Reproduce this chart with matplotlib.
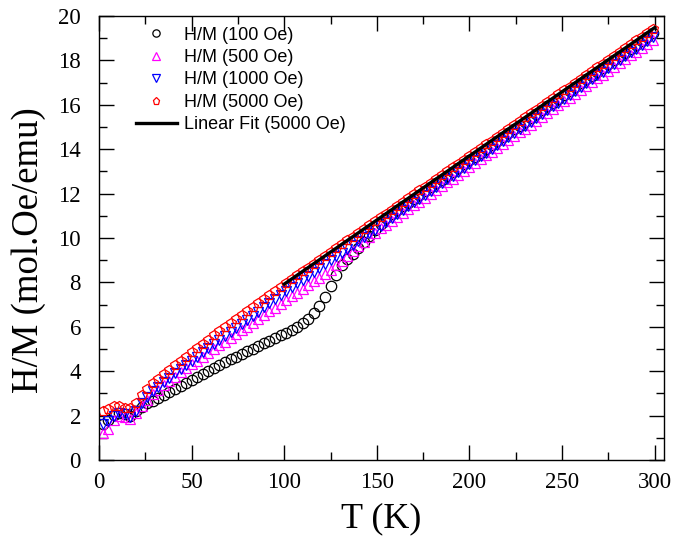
import numpy as np
import matplotlib
matplotlib.use("Agg")
import matplotlib.pyplot as plt
from matplotlib.ticker import MultipleLocator

# Temperature grid (K)
T = np.arange(2, 300, 3)

H_100 = [1.60, 1.78, 2.02, 2.10, 2.05, 1.98, 2.20, 2.40, 2.55, 2.68,
         2.80, 2.93, 3.06, 3.19, 3.32, 3.46, 3.60, 3.74, 3.88, 4.01,
         4.14, 4.27, 4.40, 4.53, 4.65, 4.77, 4.89, 5.01, 5.13, 5.25,
         5.37, 5.49, 5.61, 5.73, 5.86, 6.00, 6.16, 6.35, 6.60, 6.92,
         7.35, 7.85, 8.35, 8.80, 9.05, 9.30, 9.55, 9.80, 10.08, 10.35,
         10.62, 10.88,
         11.07, 11.25, 11.42, 11.59, 11.77, 11.94, 12.11, 12.29, 12.46, 12.63,
         12.81, 12.98, 13.15, 13.33, 13.50, 13.67, 13.85, 14.02, 14.19, 14.37,
         14.54, 14.71, 14.89, 15.06, 15.23, 15.41, 15.58, 15.75, 15.93, 16.10,
         16.27, 16.45, 16.62, 16.79, 16.97, 17.14, 17.31, 17.49, 17.66, 17.83,
         18.01, 18.18, 18.35, 18.53, 18.70, 18.87, 19.05, 19.22]

H_500 = [1.22, 1.38, 1.78, 1.98, 1.95, 1.85, 2.10, 2.42, 2.72, 2.97,
         3.17, 3.37, 3.57, 3.76, 3.95, 4.13, 4.31, 4.48, 4.65, 4.82,
         4.99, 5.16, 5.33, 5.50, 5.67, 5.84, 6.01, 6.18, 6.35, 6.52,
         6.69, 6.86, 7.03, 7.20, 7.37, 7.54, 7.71, 7.88, 8.05, 8.22,
         8.40, 8.58, 8.77, 8.97, 9.18, 9.40, 9.62, 9.84, 10.04, 10.23,
         10.43, 10.60, 10.77, 10.95, 11.12, 11.29, 11.47, 11.64, 11.81, 11.99,
         12.16, 12.33, 12.51, 12.68, 12.85, 13.03, 13.20, 13.37, 13.55, 13.72,
         13.89, 14.07, 14.24, 14.41, 14.59, 14.76, 14.93, 15.11, 15.28, 15.45,
         15.63, 15.80, 15.97, 16.15, 16.32, 16.49, 16.67, 16.84, 17.01, 17.19,
         17.36, 17.53, 17.71, 17.88, 18.05, 18.23, 18.40, 18.57, 18.75, 18.92]

H_1000 = [1.62, 1.75, 2.00, 2.10, 2.05, 1.95, 2.22, 2.56, 2.86, 3.10,
          3.31, 3.51, 3.71, 3.90, 4.09, 4.28, 4.47, 4.66, 4.85, 5.03,
          5.21, 5.40, 5.58, 5.77, 5.95, 6.13, 6.32, 6.50, 6.68, 6.87,
          7.05, 7.23, 7.42, 7.60,
          7.78, 7.96, 8.13, 8.30, 8.48, 8.65, 8.82, 9.00, 9.17, 9.34,
          9.52, 9.69, 9.86, 10.04, 10.21, 10.38, 10.56, 10.73, 10.90, 11.08,
          11.25, 11.42, 11.60, 11.77, 11.94, 12.12, 12.29, 12.46, 12.64, 12.81,
          12.98, 13.16, 13.33, 13.50, 13.68, 13.85, 14.02, 14.20, 14.37, 14.54,
          14.72, 14.89, 15.06, 15.24, 15.41, 15.58, 15.76, 15.93, 16.10, 16.28,
          16.45, 16.62, 16.80, 16.97, 17.14, 17.32, 17.49, 17.66, 17.84, 18.01,
          18.18, 18.36, 18.53, 18.70, 18.88, 19.05]

H_5000 = [2.22, 2.30, 2.42, 2.42, 2.36, 2.36, 2.58, 2.92, 3.22, 3.45,
          3.66, 3.86, 4.06, 4.26, 4.46, 4.66, 4.85, 5.04, 5.23, 5.42,
          5.61, 5.80, 5.99, 6.18, 6.36, 6.54, 6.72, 6.90, 7.08, 7.26,
          7.44, 7.62, 7.80, 7.98,
          8.15, 8.33, 8.50, 8.67, 8.85, 9.02, 9.19, 9.37, 9.54, 9.71,
          9.89, 10.06, 10.23, 10.41, 10.58, 10.75, 10.93, 11.10, 11.27, 11.45,
          11.62, 11.79, 11.97, 12.14, 12.31, 12.49, 12.66, 12.83, 13.01, 13.18,
          13.35, 13.53, 13.70, 13.87, 14.05, 14.22, 14.39, 14.57, 14.74, 14.91,
          15.09, 15.26, 15.43, 15.61, 15.78, 15.95, 16.13, 16.30, 16.47, 16.65,
          16.82, 16.99, 17.17, 17.34, 17.51, 17.69, 17.86, 18.03, 18.21, 18.38,
          18.55, 18.73, 18.90, 19.07, 19.25, 19.42]

fit_range = [100, 300]

labels = ["H/M (100 Oe)", "H/M (500 Oe)", "H/M (1000 Oe)", "H/M (5000 Oe)",
          "Linear Fit (5000 Oe)"]

fig = plt.figure(figsize=(6.76, 5.38), dpi=100)
ax = fig.add_axes([99/676, (538-460)/538, 565/676, 444/538])

ms = 7.5
mew = 0.9
ax.plot(T, H_100, ls='none', marker='o', ms=ms, mfc='none', mec='black', mew=mew, label=labels[0])
ax.plot(T, H_500, ls='none', marker='^', ms=ms, mfc='none', mec='#ff00ff', mew=mew, label=labels[1])
ax.plot(T, H_1000, ls='none', marker='v', ms=ms, mfc='none', mec='#0000ff', mew=mew, label=labels[2])
ax.plot(T, H_5000, ls='none', marker='p', ms=ms, mfc='none', mec='#ff0000', mew=mew, label=labels[3])

Tarr = np.array(T)
Harr = np.array(H_5000)
sel = Tarr >= fit_range[0]
k, b = np.polyfit(Tarr[sel], Harr[sel], 1)
xf = np.array(fit_range, dtype=float)
ax.plot(xf, k*xf + b, color='black', lw=2.4, label=labels[4])

ax.set_xlim(0, 305)
ax.set_ylim(0, 20)
ax.xaxis.set_major_locator(MultipleLocator(50))
ax.xaxis.set_minor_locator(MultipleLocator(25))
ax.yaxis.set_major_locator(MultipleLocator(2))
ax.yaxis.set_minor_locator(MultipleLocator(1))
ax.tick_params(which='both', direction='in', top=True, right=True, width=1.0)
ax.tick_params(which='major', length=11)
ax.tick_params(which='minor', length=5.5)
ax.tick_params(axis='y', which='major', pad=13)
ax.tick_params(axis='x', which='major', pad=9)
for s in ax.spines.values():
    s.set_linewidth(1.0)

serif = ['Liberation Serif', 'DejaVu Serif']
for lab in ax.get_xticklabels() + ax.get_yticklabels():
    lab.set_fontfamily(serif)
    lab.set_fontsize(16.5)
ax.set_xlabel("T (K)", fontfamily=serif, fontsize=26)
ax.set_ylabel("H/M (mol.Oe/emu)", fontfamily=serif, fontsize=26.5)
ax.yaxis.set_label_coords(-0.094, 0.473)
ax.xaxis.set_label_coords(0.5, -0.095)

leg = ax.legend(loc='upper left', bbox_to_anchor=(0.065, 0.976), frameon=False,
                prop={'family': 'Liberation Sans', 'size': 13}, numpoints=1,
                markerscale=0.7,
                handlelength=2.3, handletextpad=0.35, labelspacing=0.3,
                borderpad=0, borderaxespad=0)

fig.savefig("out.png", dpi=100)
